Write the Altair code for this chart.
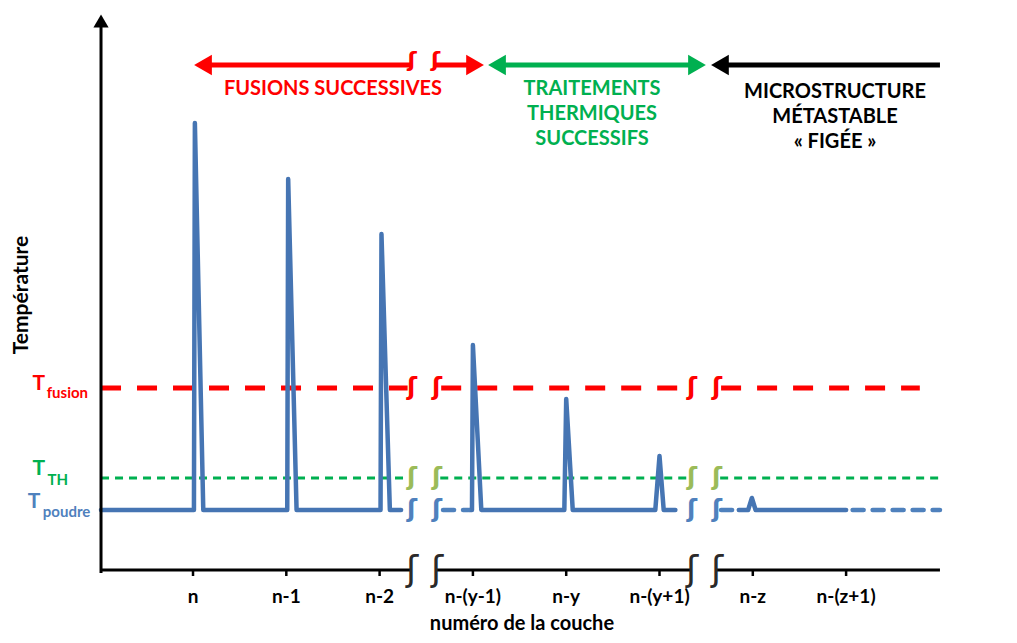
import altair as alt
import pandas as pd

# ---------------- data ----------------
LAYER_LABELS = ["n", "n-1", "n-2", "n-(y-1)", "n-y", "n-(y+1)", "n-z", "n-(z+1)"]
LAYER_POS = [0, 1, 2, 3, 4, 5, 6, 7]
PEAK_TEMPS = [447, 391, 336, 225, 171, 114, 72]   # peak temperature of each layer (arbitrary units)
T_POUDRE = 60
T_TH = 92
T_FUSION = 182
BREAKS = [2.347, 2.615, 5.348, 5.616]              # axis break symbols (layer units)

FONT = "Lato"
RED = "#FF0000"
GREEN = "#00B050"
OLIVE = "#9BBB59"
BLUE = "#4675B3"
BLUE_LIGHT = "#4F81BD"

X = alt.Scale(domain=[-1.983, 8.746], nice=False, zero=False)
Y = alt.Scale(domain=[-65, 562], nice=False, zero=False)


def xe(f="x"):
    return alt.X(f"{f}:Q", scale=X, axis=None)


def ye(f="y"):
    return alt.Y(f"{f}:Q", scale=Y, axis=None)


# ---------------- blue temperature trace ----------------
spike_shape = {  # (rise, peak, fall) offsets around each layer tick
    0: (0.01, 0.02, 0.11), 1: (0.01, 0.02, 0.11), 2: (0.01, 0.02, 0.11),
    3: (-0.01, 0.0, 0.09), 4: (-0.02, 0.0, 0.07), 5: (-0.045, 0.0, 0.045),
    6: (-0.05, -0.01, 0.03),
}


def trace(seg, start, end, layers):
    pts = [(start, T_POUDRE)]
    for k in layers:
        a, b, c = spike_shape[k]
        p = LAYER_POS[k]
        pts += [(p + a, T_POUDRE), (p + b, PEAK_TEMPS[k]), (p + c, T_POUDRE)]
    pts.append((end, T_POUDRE))
    return [{"seg": seg, "x": x, "y": y, "y2": T_POUDRE, "o": i} for i, (x, y) in enumerate(pts)]


solid = pd.DataFrame(trace("a", -0.986, 2.23, [0, 1, 2])
                     + trace("c", 2.96, 5.17, [3, 4, 5])
                     + trace("e", 5.85, 7.0, [6]))
dashed = pd.DataFrame(trace("b", 2.68, 2.95, []) + trace("d", 5.66, 5.84, [])
                      + trace("f", 7.07, 8.006, []))
small = pd.DataFrame(trace("g", 4.9, 5.1, [5]) + trace("h", 5.9, 6.1, [6]))

blue_fill = alt.Chart(small).mark_area(color=BLUE, opacity=1).encode(
    x=xe(), y=ye(), y2="y2:Q", detail="seg:N", order="o:Q")
blue_solid = alt.Chart(solid).mark_line(
    color=BLUE, strokeWidth=4.5, strokeJoin="round", strokeCap="round"
).encode(x=xe(), y=ye(), detail="seg:N", order="o:Q")
blue_dash = alt.Chart(dashed).mark_line(
    color=BLUE_LIGHT, strokeWidth=4.5, strokeDash=[11, 9], strokeCap="round"
).encode(x=xe(), y=ye(), detail="seg:N", order="o:Q")


# ---------------- threshold lines ----------------
def rules(rows, **kw):
    return alt.Chart(pd.DataFrame(rows, columns=["x", "x2", "y"])).mark_rule(**kw).encode(
        x=xe(), x2="x2:Q", y=ye())


fusion_line = rules([(-0.986, 2.30, T_FUSION), (2.66, 5.30, T_FUSION), (5.66, 7.79, T_FUSION)],
                    color=RED, strokeWidth=5, strokeDash=[20, 16])
th_line = rules([(-0.986, 2.31, T_TH), (2.65, 5.31, T_TH), (5.65, 8.006, T_TH)],
                color=GREEN, strokeWidth=3, strokeDash=[8, 6])

# ---------------- axes drawn by hand ----------------
x_axis = rules([(-0.986, BREAKS[0], 0), (BREAKS[1], BREAKS[2], 0), (BREAKS[3], 8.006, 0)],
               color="black", strokeWidth=3)
y_axis = alt.Chart(pd.DataFrame({"x": [-0.986], "y": [-3], "y2": [548]})).mark_rule(
    color="black", strokeWidth=3).encode(x=xe(), y=ye(), y2="y2:Q")
y_arrow = alt.Chart(pd.DataFrame({"x": [-0.986], "y": [549]})).mark_point(
    shape="triangle-up", filled=True, color="black", size=230, opacity=1).encode(x=xe(), y=ye())
ticks = alt.Chart(pd.DataFrame({"x": LAYER_POS, "y": [0] * 8, "y2": [-6] * 8})).mark_rule(
    color="black", strokeWidth=2.5).encode(x=xe(), y=ye(), y2="y2:Q")
tick_labels = alt.Chart(pd.DataFrame({"x": LAYER_POS, "y": [-27] * 8, "t": LAYER_LABELS})).mark_text(
    font=FONT, fontWeight="bold", fontSize=19, color="black", baseline="middle"
).encode(x=xe(), y=ye(), text="t:N")


# ---------------- break symbols ----------------
def breaks(yval, color, size, xs=BREAKS, weight="bold"):
    return alt.Chart(pd.DataFrame({"x": xs, "y": [yval] * len(xs)})).mark_text(
        text="ʃ", font="DejaVu Sans", fontWeight=weight, fontSize=size, color=color,
        baseline="middle").encode(x=xe(), y=ye())


sym = [breaks(T_FUSION, RED, 24), breaks(T_TH, OLIVE, 24), breaks(T_POUDRE, BLUE_LIGHT, 24),
       breaks(0, "#2a2a2a", 36, weight="normal"), breaks(510, RED, 22, xs=[2.347, 2.60])]

# ---------------- top arrows ----------------
arrows = rules([(0.10, 2.347, 505), (2.60, 3.03, 505)], color=RED, strokeWidth=5)
arrows_g = rules([(3.25, 5.40, 505)], color=GREEN, strokeWidth=5)
arrows_k = rules([(5.64, 8.006, 505)], color="black", strokeWidth=5)


def heads(xs, shape, color):
    return alt.Chart(pd.DataFrame({"x": xs, "y": [505] * len(xs)})).mark_point(
        shape=shape, filled=True, color=color, size=420, opacity=1).encode(x=xe(), y=ye())


head_layers = [heads([0.107], "triangle-left", RED), heads([3.023], "triangle-right", RED),
               heads([3.258], "triangle-left", GREEN), heads([5.402], "triangle-right", GREEN),
               heads([5.648], "triangle-left", "black")]


# ---------------- texts ----------------
def texts(rows, color, size, align="center", angle=0, weight="bold"):
    df = pd.DataFrame(rows, columns=["x", "y", "t"])
    return alt.Chart(df).mark_text(
        font=FONT, fontWeight=weight, fontSize=size, color=color, align=align,
        baseline="middle", angle=angle).encode(x=xe(), y=ye(), text="t:N")


txt = [
    texts([(1.50, 481, "FUSIONS SUCCESSIVES")], RED, 20),
    texts([(4.277, 481, "TRAITEMENTS"), (4.277, 456, "THERMIQUES"), (4.277, 431, "SUCCESSIFS")], GREEN, 20),
    texts([(6.881, 478, "MICROSTRUCTURE"), (6.881, 453, "MÉTASTABLE"), (6.881, 428, "« FIGÉE »")], "black", 20),
    texts([(3.526, -54, "numéro de la couche")], "black", 20),
    texts([(-1.833, 275, "Température")], "black", 21, angle=270),
    texts([(-1.72, 186, "T")], RED, 21, align="left"),
    texts([(-1.568, 177, "fusion")], RED, 15, align="left"),
    texts([(-1.72, 101, "T")], GREEN, 21, align="left"),
    texts([(-1.56, 90, "TH")], GREEN, 15, align="left"),
    texts([(-1.77, 68, "T")], BLUE_LIGHT, 21, align="left"),
    texts([(-1.61, 58, "poudre")], BLUE_LIGHT, 15, align="left"),
]

chart = alt.layer(
    fusion_line, th_line, blue_fill, blue_solid, blue_dash, x_axis, y_axis, y_arrow, ticks,
    tick_labels, arrows, arrows_g, arrows_k, *head_layers, *sym, *txt
).properties(
    width=1001, height=627, autosize=alt.AutoSizeParams(type="none"), padding=0
).configure_view(stroke=None)

chart.save("out.html", embed_options={"renderer": "svg", "actions": False})
